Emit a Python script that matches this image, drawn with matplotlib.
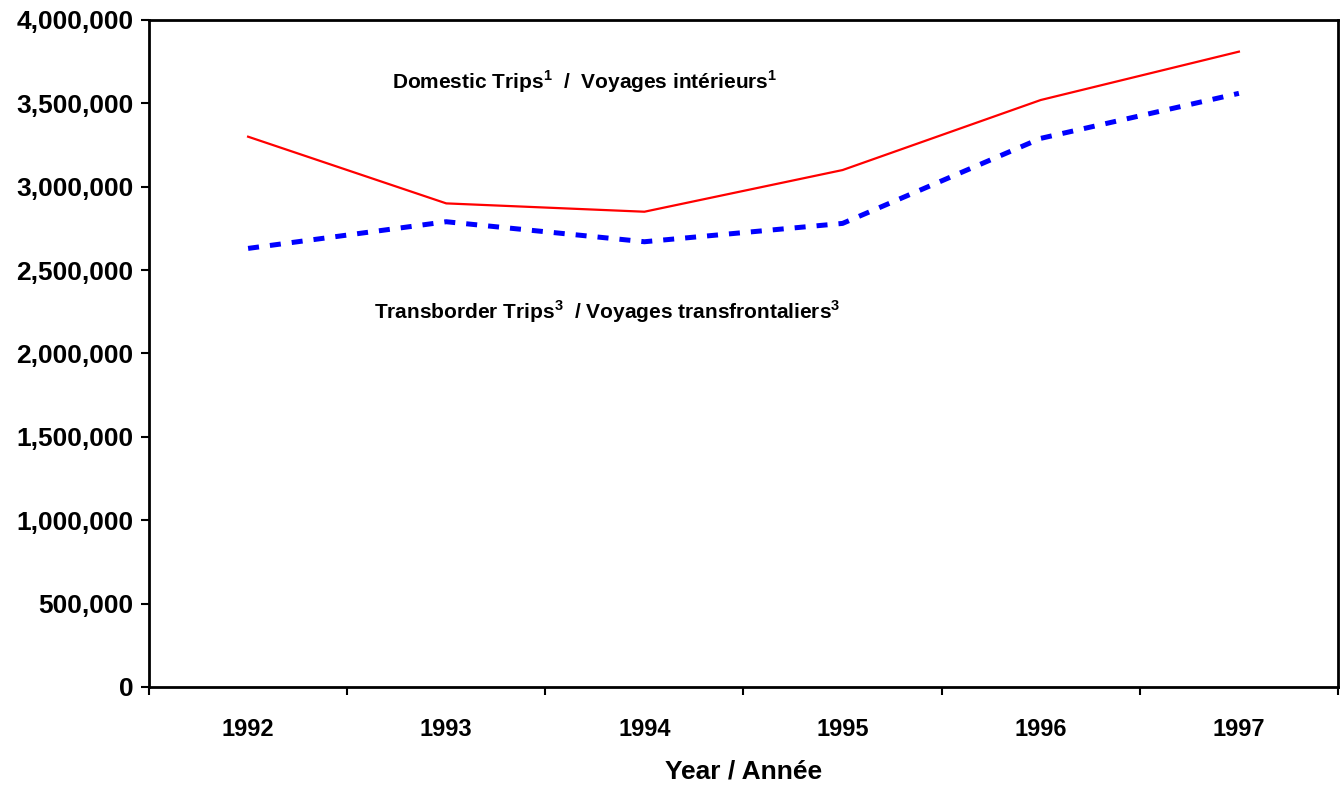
import matplotlib.pyplot as plt
from matplotlib.ticker import FuncFormatter

plt.rcParams['font.family'] = ['Liberation Sans', 'DejaVu Sans']
plt.rcParams['mathtext.fontset'] = 'custom'
plt.rcParams['mathtext.bf'] = 'Liberation Sans:bold'
plt.rcParams['mathtext.rm'] = 'Liberation Sans:bold'

years = ['1992', '1993', '1994', '1995', '1996', '1997']
domestic = [3300000, 2900000, 2850000, 3100000, 3520000, 3810000]
transborder = [2630000, 2790000, 2670000, 2780000, 3290000, 3560000]

fig = plt.figure(figsize=(13.4, 7.86), dpi=100)
ax = fig.add_axes([0.1112, 0.126, 0.8873, 0.8486])

x = list(range(1, len(years) + 1))
ax.plot(x, domestic, color='#ff0000', linewidth=1.6)
ax.plot(x, transborder, color='#0000ff', linewidth=3.6, linestyle=(0, (2.2, 2.2)))

ax.set_xlim(0.5, len(years) + 0.5)
ax.set_ylim(0, 4000000)
ax.set_yticks(range(0, 4000001, 500000))
ax.yaxis.set_major_formatter(FuncFormatter(lambda v, p: f"{int(v):,}"))

# category boundaries as ticks, labels centred between them
ax.set_xticks([i + 0.5 for i in range(len(years) + 1)])
ax.set_xticklabels([])
ax.set_xticks(x, minor=True)
ax.set_xticklabels(years, minor=True)
ax.tick_params(axis='x', which='minor', length=0, pad=22, labelsize=17)
ax.tick_params(axis='x', which='major', length=6, width=1.5, direction='out')
ax.tick_params(axis='y', length=6, width=1.5, direction='out', labelsize=19, pad=5)
for lbl in ax.get_xticklabels(minor=True) + ax.get_yticklabels():
    lbl.set_fontweight('bold')

for s in ax.spines.values():
    s.set_linewidth(2)

ax.set_xlabel("Year / Année", fontsize=19, fontweight='bold', labelpad=14)

ax.text(2.70, 3628000, r"Domestic Trips$^{1}$  /  Voyages intérieurs$^{1}$",
        ha='center', va='center', fontsize=15, fontweight='bold')
ax.text(2.81, 2249000, r"Transborder Trips$^{3}$  / Voyages transfrontaliers$^{3}$",
        ha='center', va='center', fontsize=15, fontweight='bold')

plt.savefig("out.png", dpi=100)
